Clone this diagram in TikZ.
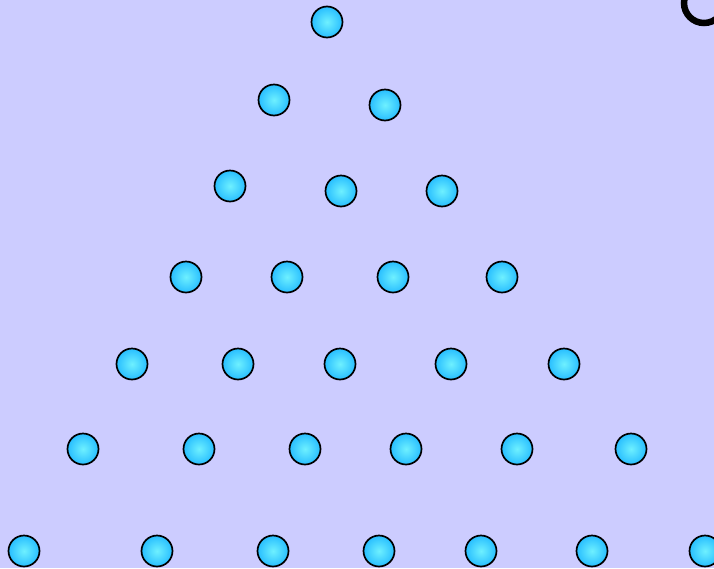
\documentclass[tikz,border=0pt]{standalone}
\begin{document}
\begin{tikzpicture}[x=1pt,y=-1pt,
  ball/.style={circle,draw=black,line width=1.7pt,minimum size=31pt,inner sep=0pt,
    inner color={rgb,255:red,110;green,240;blue,255},
    outer color={rgb,255:red,40;green,190;blue,255}}]
\definecolor{bg}{RGB}{204,204,255}
\fill[bg] (0,0) rectangle (714,568);
\useasboundingbox (0,0) rectangle (714,568);
\begin{scope}
\clip (0,0) rectangle (714,568);
\draw[line width=6.5pt] (704,3) circle (20);
\foreach \n/\x/\y in {
 1/327/22,
 2/274/100, 3/385/105,
 4/230/186, 5/341/191, 6/442/191,
 7/186/277, 8/287/277, 9/393/277, 10/502/277,
 11/132/364, 12/238/364, 13/340/364, 14/451/364, 15/564/364,
 16/83/449, 17/199/449, 18/305/449, 19/406/449, 20/517/449, 21/631/449,
 22/24/551, 23/157/551, 24/273/551, 25/379/551, 26/481/551, 27/592/551, 28/705/551}
  \node[ball] (b\n) at (\x,\y) {};
\end{scope}
\end{tikzpicture}
\end{document}
